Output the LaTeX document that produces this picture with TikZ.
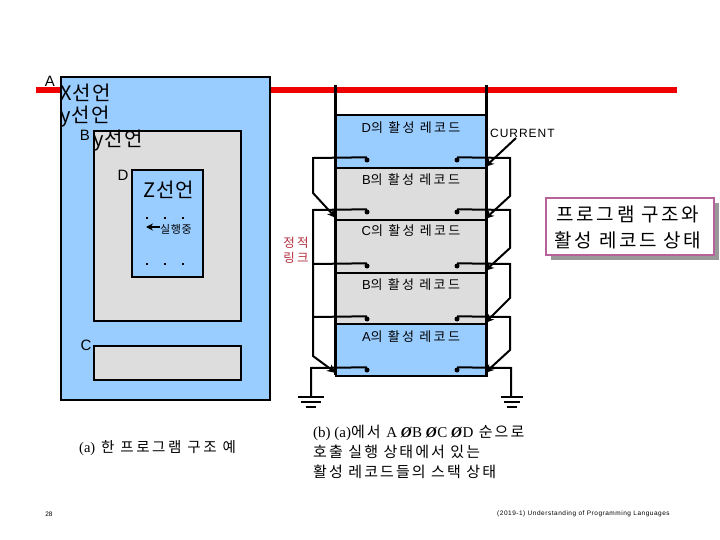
\documentclass[tikz,border=0pt]{standalone}
\usepackage{fontspec}
\usetikzlibrary{arrows.meta}
\setmainfont{Liberation Sans}
\newfontfamily\kr[LetterSpace=5]{Noto Sans CJK KR}
\newfontfamily\krs[LetterSpace=18]{Noto Sans CJK KR}
\newfontfamily\krt[LetterSpace=14]{Noto Sans CJK KR}
\newfontfamily\lats[LetterSpace=8]{Liberation Sans}
\newfontfamily\serifx{Liberation Serif}
\definecolor{skyb}{HTML}{99CCFF}
\definecolor{lgray}{HTML}{DDDDDD}
\definecolor{redl}{HTML}{EE0000}
\definecolor{pinkb}{HTML}{B8629A}
\definecolor{linkred}{HTML}{B5303F}
\tikzset{
 box/.style={draw=black,line width=2.2pt,rectangle,inner sep=0pt,anchor=north west},
 rec/.style={box,minimum width=151pt},
 txt/.style={inner sep=0pt,text=black},
 reclab/.style={txt,font=\fontsize{13}{15}\selectfont\krs},
 big/.style={txt,anchor=west,font=\fontsize{20}{23}\selectfont\kr},
 let/.style={txt,font=\fontsize{15}{18}\selectfont},
 dotn/.style={circle,fill=black,inner sep=0pt,minimum size=5pt},
 mdot/.style={rectangle,fill=black,inner sep=0pt,minimum size=2.8pt},
 lnk/.style={line width=2pt,line join=miter},
 lnka/.style={lnk,-{Stealth[length=9pt,width=8pt]}},
 gline/.style={line width=1.6pt},
}
\newcommand{\grnd}[3]{%
 \draw[gline] (#1,#2) ++(-#3,0) -- ++(2*#3,0);
 \draw[gline] (#1,#2+5) ++(-#3*0.75,0) -- ++(1.5*#3,0);
 \draw[gline] (#1,#2+10) ++(-#3*0.42,0) -- ++(0.84*#3,0);}
\begin{document}
\begin{tikzpicture}[x=1pt,y=-1pt]
\useasboundingbox (0,0) rectangle (720,540);
\fill[white] (0,0) rectangle (720,540);
% red line
\coordinate (redS) at (36,90);
\coordinate (redE) at (677,90);
\draw[redl,line width=6.5pt] (redS) -- (redE);
% left program structure
\node[box,fill=skyb,minimum width=209pt,minimum height=323pt] (A) at (60,76) {};
\node[box,fill=lgray,minimum width=147pt,minimum height=190pt] (B) at (93,130) {};
\node[box,fill=skyb,minimum width=71pt,minimum height=107pt] (D) at (131,169) {};
\node[box,fill=lgray,minimum width=147pt,minimum height=34pt] (C) at (93,345) {};
\node[let] (la) at (50,81) {A};
\node[let] (lb) at (85,135) {B};
\node[let] (ld) at (123,175) {D};
\node[let] (lc) at (86,345) {C};
\node[big] (t1) at (60,93) {X선언};
\node[big] (t2) at (60,117) {y선언};
\node[big] (t3) at (93,141) {y선언};
\node[big] (t4) at (143,190) {Z선언};
\foreach \n/\x/\y in {a/147/218,b/165/218,c/183/218,d/147/264,e/165/264,f/183/264}
  \node[mdot] (m\n) at (\x,\y) {};
\node[txt,anchor=west,font=\fontsize{11}{13}\selectfont\kr] (run) at (160,229) {실행중};
\coordinate (runE) at (146,227);
\draw[line width=2pt,-{Stealth[length=7pt,width=7pt]}] (run.west |- runE) -- (runE);
% stack
\coordinate (vLt) at (335,85);
\coordinate (vLb) at (335,375);
\coordinate (vRt) at (486,85);
\coordinate (vRb) at (486,375);
\node[rec,fill=skyb,minimum height=53pt] (rD) at (335,114) {};
\node[rec,fill=lgray,minimum height=52pt] (rB1) at (335,167) {};
\node[rec,fill=lgray,minimum height=53pt] (rC) at (335,219) {};
\node[rec,fill=lgray,minimum height=51pt] (rB2) at (335,272) {};
\node[rec,fill=skyb,minimum height=52pt] (rA) at (335,323) {};
\draw[line width=3pt] (vLt) -- (vLb);
\draw[line width=3pt] (vRt) -- (vRb);
\node[reclab] at (411,128) {{\lats D}의 활성 레코드};
\node[reclab] at (411,180) {{\lats B}의 활성 레코드};
\node[reclab] at (411,231) {{\lats C}의 활성 레코드};
\node[reclab] at (411,285) {{\lats B}의 활성 레코드};
\node[reclab] at (411,337) {{\lats A}의 활성 레코드};
% dots
\foreach \n/\y in {1/160,2/212,3/266,4/319,5/370}{
  \node[dotn] (dl\n) at (367,\y) {};
  \node[dotn] (dr\n) at (457,\y) {};
}
% targets
\coordinate (tl1) at (336,218);
\coordinate (tl2) at (336,373);
\coordinate (tr1) at (485,167);
\coordinate (tr2) at (485,219);
\coordinate (tr3) at (485,271);
\coordinate (tr4) at (485,323);
\coordinate (tr5) at (485,373);
% left links
\draw[lnka] (dl1.north) -- (313,158) -- (313,193) -- (tl1);
\draw[lnka] (dl2.north) -- (313,210) -- (313,356) -- (tl2);
\draw[lnk] (dl3.north) -- (313,264);
\draw[lnk] (dl4.north) -- (313,317);
% right links
\draw[lnka] (dr1.north) -- (510,158) -- (510,196) -- (tr2);
\draw[lnka] (dr2.north) -- (510,210) -- (510,248) -- (tr3);
\draw[lnka] (dr3.north) -- (510,264) -- (510,298) -- (tr4);
\draw[lnka] (dr4.north) -- (510,317) -- (510,350) -- (tr5);
% ground links
\coordinate (gl) at (311,397);
\coordinate (gr) at (511,397);
\draw[lnk] (dl5.north) -- (311,368) -- (gl);
\draw[lnk] (dr5.north) -- (511,368) -- (gr);
\grnd{311}{397}{13}
\grnd{512}{397}{11}
% current
\node[txt,anchor=west,font=\fontsize{12}{14}\selectfont\lats] (cur) at (490,133) {CURRENT};
\coordinate (curS) at (516,138);
\draw[lnka] (curS) -- (tr1);
% static link label
\node[txt,text=linkred,font=\fontsize{12.5}{15}\selectfont\krs] (sl1) at (296,243) {정적};
\node[txt,text=linkred,font=\fontsize{12.5}{15}\selectfont\krs] (sl2) at (296,258) {링크};
% title box
\fill[gray!80] (551,203) rectangle (719,260);
\node[box,draw=pinkb,fill=white,minimum width=168pt,minimum height=57pt] (ttl) at (545,197) {};
\node[txt,font=\fontsize{19}{22}\selectfont\krt] (ttl1) at (628,214) {프로그램 구조와};
\node[txt,font=\fontsize{19}{22}\selectfont\krt] (ttl2) at (628,240) {활성 레코드 상태};
% captions
\node[txt,anchor=west,font=\fontsize{14.5}{17}\selectfont\krs] (capa) at (79,448) {{\serifx (a)} 한 프로그램 구조 예};
\node[txt,anchor=west,font=\fontsize{15}{18}\selectfont\krt] (capb1) at (313,433) {{\serifx (b) (a)}에서 {\serifx A \textbf{\textit{Ø}}B \textbf{\textit{Ø}}C \textbf{\textit{Ø}}D} 순으로};
\node[txt,anchor=west,font=\fontsize{15}{18}\selectfont\krt] (capb2) at (313,452) {호출 실행 상태에서 있는};
\node[txt,anchor=west,font=\fontsize{15}{18}\selectfont\krt] (capb3) at (313,472) {활성 레코드들의 스택 상태};
% footer
\node[txt,font=\fontsize{6.5}{8}\selectfont] (pg) at (49,514) {28};
\node[txt,anchor=west,font=\fontsize{6.5}{8}\selectfont\lats] (ft) at (497,514) {(2019-1) Understanding of Programming Languages};
\end{tikzpicture}
\end{document}
